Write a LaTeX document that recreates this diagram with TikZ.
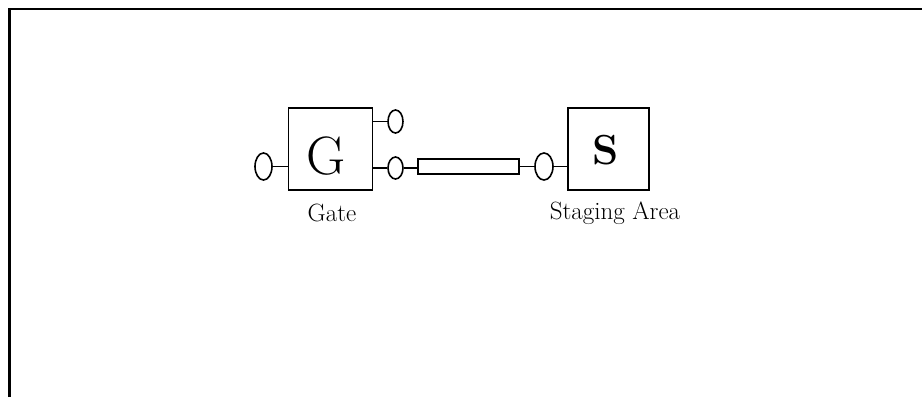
\documentclass[tikz,border=0pt]{standalone}
\usepackage{fontspec}
\usetikzlibrary{shapes.geometric}
\begin{document}
\begin{tikzpicture}[x=1pt,y=-1pt,
  box/.style={draw,line width=1.5pt,rectangle,inner sep=0pt},
  port/.style={draw,line width=1.6pt,ellipse,inner sep=0pt},
  wire/.style={line width=1.7pt},
  lbl/.style={inner sep=0pt,font=\fontsize{25}{27}\selectfont}]
\useasboundingbox (0,0) rectangle (922,397);
\coordinate (fa) at (9.5,397);
\coordinate (fb) at (9.5,9);
\coordinate (fc) at (922,9);
\draw[line width=2.6pt] (fa) -- (fb) -- (fc);
% Gate
\node[box,minimum width=84pt,minimum height=82pt] (gbox) at (330.5,149) {};
\node[inner sep=0pt,font=\fontsize{54}{56}\selectfont] (gtxt) at (326,156.5) {G};
\node[lbl] (glbl) at (332,213) {Gate};
\node[port,minimum width=17pt,minimum height=27pt] (el1) at (263.5,166.5) {};
\node[port,minimum width=15pt,minimum height=23pt] (el2) at (395.5,121.5) {};
\node[port,minimum width=15pt,minimum height=22pt] (el3) at (395.5,168) {};
% channel
\node[box,line width=1.4pt,minimum width=101pt,minimum height=15pt] (chan) at (468.5,166.5) {};
\node[port,minimum width=18pt,minimum height=27pt] (el4) at (544,166.5) {};
% Staging
\node[box,minimum width=81pt,minimum height=82pt] (sbox) at (608.5,149) {};
\node[inner sep=0pt,font=\fontsize{42}{44}\selectfont\bfseries] (stxt) at (606,150.5) {S};
\node[lbl] (slbl) at (615,213) {Staging Area};
% wires
\draw[wire] (el1.east) -- (el1.east -| gbox.west);
\draw[wire] (el2.west -| gbox.east) -- (el2.west);
\draw[wire] (el3.west -| gbox.east) -- (el3.west);
\draw[wire] (el3.east) -- (el3.east -| chan.west);
\draw[wire] (chan.east) -- (el4.west);
\draw[wire] (el4.east) -- (el4.east -| sbox.west);
\end{tikzpicture}
\end{document}
